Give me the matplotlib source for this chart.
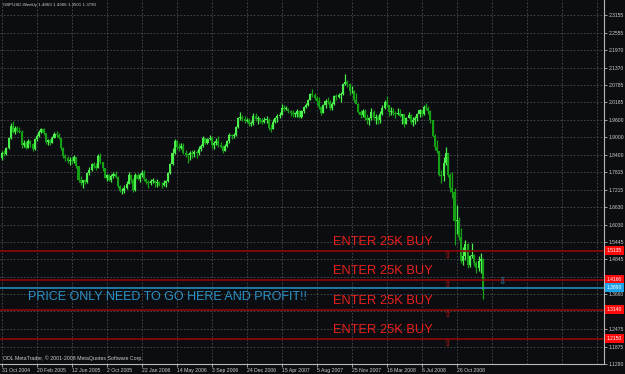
import matplotlib
matplotlib.use('Agg')
import matplotlib.pyplot as plt
from matplotlib.transforms import blended_transform_factory

# ---------------- data (weekly GBPUSD bars, 31 Oct 2004 .. 18 Jan 2009) ----------------
opens = [1.8290, 1.8480, 1.8440, 1.8640, 1.8960, 1.9390, 1.9180, 1.9330, 1.9220, 1.9180,
         1.8750, 1.8820, 1.8640, 1.8870, 1.8770, 1.8590, 1.8930, 1.9040, 1.9180, 1.9280,
         1.9130, 1.8840, 1.8900, 1.8810, 1.8980, 1.9100, 1.9090, 1.8990, 1.8640, 1.8350,
         1.8310, 1.8200, 1.8230, 1.8190, 1.8320, 1.8010, 1.7540, 1.7460, 1.7540, 1.7480,
         1.7770, 1.7900, 1.8100, 1.8030, 1.7960, 1.8370, 1.8160, 1.7940, 1.7620, 1.7700,
         1.7560, 1.7680, 1.7760, 1.7640, 1.7350, 1.7160, 1.7180, 1.7270, 1.7410, 1.7720,
         1.7540, 1.7200, 1.7720, 1.7570, 1.7730, 1.7790, 1.7570, 1.7470, 1.7460, 1.7510,
         1.7520, 1.7450, 1.7490, 1.7370, 1.7360, 1.7430, 1.7510, 1.7770, 1.8100, 1.8470,
         1.8870, 1.8680, 1.8650, 1.8700, 1.8460, 1.8410, 1.8390, 1.8480, 1.8440, 1.8490,
         1.8450, 1.8600, 1.8700, 1.8970, 1.8810, 1.8950, 1.8980, 1.8720, 1.8790, 1.8880,
         1.8720, 1.8680, 1.8540, 1.8690, 1.8860, 1.9090, 1.9050, 1.9090, 1.9360, 1.9650,
         1.9700, 1.9630, 1.9550, 1.9590, 1.9440, 1.9490, 1.9720, 1.9620, 1.9650, 1.9550,
         1.9510, 1.9590, 1.9600, 1.9300, 1.9270, 1.9530, 1.9650, 1.9730, 1.9770, 2.0010,
         1.9950, 1.9970, 1.9890, 1.9840, 1.9780, 1.9800, 1.9900, 1.9690, 1.9880, 2.0040,
         2.0110, 2.0270, 2.0470, 2.0420, 2.0320, 2.0220, 2.0030, 1.9840, 2.0080, 2.0240,
         2.0200, 2.0000, 2.0130, 2.0410, 2.0370, 2.0420, 2.0480, 2.0800, 2.0870, 2.0800,
         2.0560, 2.0560, 2.0280, 2.0140, 1.9870, 1.9760, 1.9890, 1.9640, 1.9570, 1.9640,
         1.9870, 1.9640, 1.9700, 1.9600, 1.9790, 2.0000, 2.0210, 2.0080, 1.9860, 1.9900,
         1.9820, 1.9780, 1.9820, 1.9720, 1.9780, 1.9460, 1.9660, 1.9770, 1.9520, 1.9590,
         1.9660, 1.9790, 1.9930, 1.9780, 2.0020, 2.0010, 1.9880, 1.9570, 1.9050, 1.8660,
         1.8520, 1.7700, 1.7670, 1.8140, 1.8450, 1.7720, 1.7290, 1.7150, 1.6150, 1.6180,
         1.5620, 1.4790, 1.4950, 1.5380, 1.4650, 1.4970, 1.4990, 1.4730, 1.4550, 1.4780,
         1.4869]
highs = [1.8520, 1.8560, 1.8680, 1.9020, 1.9470, 1.9550, 1.9380, 1.9370, 1.9340, 1.9230,
         1.8920, 1.8860, 1.8930, 1.8920, 1.8810, 1.8960, 1.9110, 1.9260, 1.9330, 1.9320,
         1.9140, 1.8940, 1.8950, 1.9040, 1.9180, 1.9200, 1.9140, 1.8990, 1.8670, 1.8430,
         1.8360, 1.8330, 1.8320, 1.8390, 1.8340, 1.8020, 1.7690, 1.7560, 1.7590, 1.7830,
         1.8000, 1.8140, 1.8150, 1.8130, 1.8440, 1.8450, 1.8160, 1.7960, 1.7760, 1.7740,
         1.7740, 1.7820, 1.7860, 1.7690, 1.7380, 1.7260, 1.7360, 1.7510, 1.7830, 1.7740,
         1.7600, 1.7790, 1.7770, 1.7780, 1.7900, 1.7880, 1.7610, 1.7560, 1.7580, 1.7620,
         1.7560, 1.7570, 1.7510, 1.7490, 1.7560, 1.7560, 1.7830, 1.8140, 1.8640, 1.8930,
         1.8910, 1.8800, 1.8820, 1.8800, 1.8570, 1.8480, 1.8540, 1.8560, 1.8560, 1.8560,
         1.8700, 1.8780, 1.9050, 1.8980, 1.8990, 1.9070, 1.9040, 1.8860, 1.8960, 1.9030,
         1.8830, 1.8720, 1.8780, 1.8890, 1.9130, 1.9120, 1.9140, 1.9380, 1.9700, 1.9850,
         1.9760, 1.9730, 1.9660, 1.9640, 1.9560, 1.9810, 1.9830, 1.9720, 1.9670, 1.9660,
         1.9680, 1.9720, 1.9640, 1.9450, 1.9610, 1.9700, 1.9780, 1.9860, 2.0130, 2.0110,
         2.0070, 2.0010, 1.9920, 1.9920, 1.9860, 1.9950, 1.9920, 1.9930, 2.0070, 2.0160,
         2.0290, 2.0490, 2.0650, 2.0510, 2.0400, 2.0380, 2.0060, 2.0140, 2.0290, 2.0360,
         2.0270, 2.0200, 2.0450, 2.0480, 2.0520, 2.0530, 2.0860, 2.1160, 2.0960, 2.0830,
         2.0750, 2.0620, 2.0520, 2.0180, 1.9920, 1.9950, 1.9970, 1.9780, 1.9700, 1.9980,
         1.9920, 1.9790, 1.9760, 1.9900, 2.0100, 2.0280, 2.0395, 2.0100, 2.0020, 1.9980,
         1.9900, 2.0000, 1.9950, 1.9800, 1.9790, 1.9690, 1.9860, 1.9800, 1.9680, 1.9720,
         1.9840, 1.9960, 1.9930, 2.0080, 2.0160, 2.0060, 1.9920, 1.9600, 1.9120, 1.8900,
         1.8540, 1.7890, 1.8320, 1.8660, 1.8480, 1.7800, 1.7820, 1.7270, 1.6680, 1.6300,
         1.5900, 1.5260, 1.5490, 1.5400, 1.5000, 1.5400, 1.5020, 1.4790, 1.4950, 1.5070,
         1.4906]
lows = [1.8240, 1.8370, 1.8380, 1.8600, 1.8930, 1.9140, 1.9110, 1.9180, 1.9150, 1.8640,
        1.8670, 1.8600, 1.8620, 1.8680, 1.8530, 1.8570, 1.8880, 1.9000, 1.9140, 1.9060,
        1.8760, 1.8720, 1.8730, 1.8790, 1.8960, 1.9020, 1.8930, 1.8580, 1.8310, 1.8200,
        1.8140, 1.8060, 1.8090, 1.8140, 1.7960, 1.7480, 1.7390, 1.7290, 1.7400, 1.7440,
        1.7700, 1.7860, 1.7940, 1.7900, 1.7940, 1.8090, 1.7850, 1.7600, 1.7520, 1.7500,
        1.7480, 1.7620, 1.7600, 1.7270, 1.7130, 1.7060, 1.7090, 1.7230, 1.7410, 1.7450,
        1.7150, 1.7180, 1.7540, 1.7480, 1.7650, 1.7510, 1.7410, 1.7290, 1.7390, 1.7440,
        1.7300, 1.7310, 1.7330, 1.7280, 1.7350, 1.7320, 1.7470, 1.7750, 1.8040, 1.8440,
        1.8590, 1.8530, 1.8590, 1.8420, 1.8340, 1.8140, 1.8220, 1.8300, 1.8340, 1.8290,
        1.8400, 1.8540, 1.8680, 1.8770, 1.8770, 1.8890, 1.8650, 1.8610, 1.8720, 1.8680,
        1.8620, 1.8460, 1.8530, 1.8660, 1.8800, 1.8940, 1.8980, 1.9030, 1.9320, 1.9590,
        1.9560, 1.9500, 1.9530, 1.9380, 1.9370, 1.9430, 1.9550, 1.9460, 1.9480, 1.9440,
        1.9500, 1.9480, 1.9250, 1.9180, 1.9270, 1.9470, 1.9520, 1.9650, 1.9760, 1.9890,
        1.9910, 1.9820, 1.9710, 1.9700, 1.9680, 1.9690, 1.9670, 1.9640, 1.9820, 2.0010,
        2.0070, 2.0250, 2.0370, 2.0250, 2.0100, 1.9950, 1.9740, 1.9810, 2.0000, 2.0130,
        1.9940, 1.9930, 2.0090, 2.0280, 2.0330, 2.0200, 2.0450, 2.0780, 2.0720, 2.0420,
        2.0500, 2.0190, 2.0120, 1.9810, 1.9650, 1.9700, 1.9590, 1.9450, 1.9400, 1.9580,
        1.9570, 1.9450, 1.9460, 1.9500, 1.9770, 1.9950, 2.0020, 1.9720, 1.9770, 1.9740,
        1.9660, 1.9760, 1.9680, 1.9460, 1.9360, 1.9440, 1.9660, 1.9440, 1.9380, 1.9450,
        1.9560, 1.9690, 1.9720, 1.9760, 1.9910, 1.9800, 1.9500, 1.9000, 1.8570, 1.8480,
        1.7670, 1.7445, 1.7520, 1.8040, 1.7640, 1.7140, 1.6950, 1.5350, 1.5700, 1.5510,
        1.4720, 1.4660, 1.4840, 1.4570, 1.4580, 1.4900, 1.4630, 1.4370, 1.4450, 1.4400,
        1.3501]
closes = [1.8480, 1.8440, 1.8640, 1.8960, 1.9390, 1.9180, 1.9330, 1.9220, 1.9180, 1.8750,
          1.8820, 1.8640, 1.8870, 1.8770, 1.8590, 1.8930, 1.9040, 1.9180, 1.9280, 1.9130,
          1.8840, 1.8900, 1.8810, 1.8980, 1.9100, 1.9090, 1.8990, 1.8640, 1.8350, 1.8310,
          1.8200, 1.8230, 1.8190, 1.8320, 1.8010, 1.7540, 1.7460, 1.7540, 1.7480, 1.7770,
          1.7900, 1.8100, 1.8030, 1.7960, 1.8370, 1.8160, 1.7940, 1.7620, 1.7700, 1.7560,
          1.7680, 1.7760, 1.7640, 1.7350, 1.7160, 1.7180, 1.7270, 1.7410, 1.7720, 1.7540,
          1.7200, 1.7720, 1.7570, 1.7730, 1.7790, 1.7570, 1.7470, 1.7460, 1.7510, 1.7520,
          1.7450, 1.7490, 1.7370, 1.7360, 1.7430, 1.7510, 1.7770, 1.8100, 1.8470, 1.8870,
          1.8680, 1.8650, 1.8700, 1.8460, 1.8410, 1.8390, 1.8480, 1.8440, 1.8490, 1.8450,
          1.8600, 1.8700, 1.8970, 1.8810, 1.8950, 1.8980, 1.8720, 1.8790, 1.8880, 1.8720,
          1.8680, 1.8540, 1.8690, 1.8860, 1.9090, 1.9050, 1.9090, 1.9360, 1.9650, 1.9700,
          1.9630, 1.9550, 1.9590, 1.9440, 1.9490, 1.9720, 1.9620, 1.9650, 1.9550, 1.9510,
          1.9590, 1.9600, 1.9300, 1.9270, 1.9530, 1.9650, 1.9730, 1.9770, 2.0010, 1.9950,
          1.9970, 1.9890, 1.9840, 1.9780, 1.9800, 1.9900, 1.9690, 1.9880, 2.0040, 2.0110,
          2.0270, 2.0470, 2.0420, 2.0320, 2.0220, 2.0030, 1.9840, 2.0080, 2.0240, 2.0200,
          2.0000, 2.0130, 2.0410, 2.0370, 2.0420, 2.0480, 2.0800, 2.0870, 2.0800, 2.0560,
          2.0560, 2.0280, 2.0140, 1.9870, 1.9760, 1.9890, 1.9640, 1.9570, 1.9640, 1.9870,
          1.9640, 1.9700, 1.9600, 1.9790, 2.0000, 2.0210, 2.0080, 1.9860, 1.9900, 1.9820,
          1.9780, 1.9820, 1.9720, 1.9780, 1.9460, 1.9660, 1.9770, 1.9520, 1.9590, 1.9660,
          1.9790, 1.9930, 1.9780, 2.0020, 2.0010, 1.9880, 1.9570, 1.9050, 1.8660, 1.8520,
          1.7700, 1.7670, 1.8140, 1.8450, 1.7720, 1.7290, 1.7150, 1.6150, 1.6180, 1.5620,
          1.4790, 1.4950, 1.5380, 1.4650, 1.4970, 1.4990, 1.4730, 1.4550, 1.4780, 1.4869,
          1.3790]

date_labels = ['31 Oct 2004', '20 Feb 2005', '12 Jun 2005', '2 Oct 2005', '22 Jan 2006',
               '14 May 2006', '3 Sep 2006', '24 Dec 2006', '15 Apr 2007', '5 Aug 2007',
               '25 Nov 2007', '16 Mar 2008', '6 Jul 2008', '26 Oct 2008']
bars_per_label = 16

price_ticks = [2.3155, 2.2555, 2.1970, 2.1370, 2.0785, 2.0185, 1.9600, 1.9000, 1.8400,
               1.7815, 1.7215, 1.6630, 1.6030, 1.5445, 1.4845, 1.4260, 1.3660, 1.3075,
               1.2475, 1.1875, 1.1290]
# tick labels hidden behind the coloured price boxes in the reference
hidden_ticks = [1.3075]

buy_levels = [1.5135, 1.4160, 1.3140, 1.2150]
target_level = 1.3890

header = 'GBPUSD,Weekly 1.4869 1.4906 1.3501 1.3790'
copyright_text = 'ODL MetaTrader, \u00a9 2001-2008 MetaQuotes Software Corp.'
buy_text = 'ENTER 25K BUY'
target_text = 'PRICE ONLY NEED TO GO HERE AND PROFIT!!'

# ---------------- style ----------------
BG = '#0b0d10'
GRID = '#4c4e52'
FG = '#cccccc'
UP = '#4cf04c'
DN = '#16a016'
RED_LINE = '#8e0606'
RED_TXT = '#e8201c'
BLUE = '#2a93c8'
FONT = 'Liberation Sans'

W, H = 625, 374
fig = plt.figure(figsize=(W / 100, H / 100), dpi=100)
fig.patch.set_facecolor(BG)

plot_right = 604
plot_bottom = 364
ax = fig.add_axes([0, (H - plot_bottom) / H, plot_right / W, plot_bottom / H])
ax.set_facecolor(BG)

px_per_bar = 2.186
x0_px = 2.0
ax.set_xlim(-x0_px / px_per_bar, (plot_right - x0_px) / px_per_bar)
ymin, ymax = 1.1290, 2.3666
ax.set_ylim(ymin, ymax)
ppx = (ymax - ymin) / plot_bottom   # price per pixel

n = len(closes)
xs = list(range(n))

# grid
n_vgrid = int((plot_right - x0_px) / px_per_bar / bars_per_label) + 1
for k in range(n_vgrid):
    ax.axvline(k * bars_per_label, color=GRID, lw=0.6, dashes=(2, 2), zorder=1)
for p in price_ticks:
    ax.axhline(p, color=GRID, lw=0.6, dashes=(2, 2), zorder=1)

# candles
for i in xs:
    o, h, l, c = opens[i], highs[i], lows[i], closes[i]
    col = UP if c >= o else DN
    ax.vlines(i, min(l, o, c), max(h, o, c), color=col, lw=0.9, zorder=3)
    body = max(abs(c - o), ppx * 0.8)
    ax.bar(i, body, bottom=min(o, c), width=0.95, color=col, linewidth=0, zorder=4)

# horizontal levels
for lv in buy_levels:
    ax.axhline(lv, color=RED_LINE, lw=1.2, zorder=5)
ax.axhline(target_level, color=BLUE, lw=1.1, zorder=5)

# annotations
text_x = (333 - x0_px) / px_per_bar
for lv in buy_levels:
    ax.text(text_x, lv + 8.5 * ppx, buy_text, color=RED_TXT, fontsize=9.3,
            family=FONT, va='center', ha='left', zorder=6)
ax.text((28 - x0_px) / px_per_bar, target_level - 9.5 * ppx, target_text, color=BLUE,
        fontsize=9.0, family=FONT, va='center', ha='left', zorder=6)

arrow_x = (447 - x0_px) / px_per_bar
for lv in buy_levels:
    ax.text(arrow_x, lv - 5 * ppx, '\u21e7', color='#d01414', fontsize=6.5,
            family='DejaVu Sans', ha='center', va='center', zorder=6)
ax.text((502 - x0_px) / px_per_bar, target_level + 5 * ppx, '\u21e9', color=BLUE,
        fontsize=6.5, family='DejaVu Sans', ha='center', va='center', zorder=6)

# header / footer texts
ax.text(3 / plot_right, 1 - 5 / plot_bottom, header, transform=ax.transAxes, color=FG,
        fontsize=3.2, family=FONT, va='center', ha='left')
ax.text(3 / plot_right, 1 - 358 / plot_bottom, copyright_text, transform=ax.transAxes,
        color=FG, fontsize=3.8, family=FONT, va='center', ha='left')

# axes / ticks
for s in ['top', 'left']:
    ax.spines[s].set_visible(False)
for s in ['right', 'bottom']:
    ax.spines[s].set_color('#b8b8b8')
    ax.spines[s].set_linewidth(0.8)

ax.yaxis.tick_right()
ax.set_yticks(price_ticks)
ax.set_yticklabels(['' if p in hidden_ticks else '%.4f' % p for p in price_ticks])
ax.tick_params(axis='y', direction='out', length=2, width=0.6, color='#b8b8b8',
               labelsize=3.6, labelcolor=FG, pad=1.2)
ax.set_xticks([k * bars_per_label for k in range(len(date_labels))])
ax.set_xticklabels(date_labels, ha='left')
ax.tick_params(axis='x', direction='out', length=2, width=0.6, color='#b8b8b8',
               labelsize=3.7, labelcolor=FG, pad=1.0)
for lab in ax.get_xticklabels() + ax.get_yticklabels():
    lab.set_family(FONT)

# price boxes on the right axis
ytr = blended_transform_factory(ax.transAxes, ax.transData)
for lv in buy_levels:
    ax.text(1.0 + 2.5 / plot_right, lv, '%.4f' % lv, transform=ytr, color='white',
            fontsize=3.6, family=FONT, va='center', ha='left', clip_on=False,
            zorder=10, bbox=dict(boxstyle='square,pad=0.4', fc='#ff0a0a', ec='none'))
ax.text(1.0 + 2.5 / plot_right, target_level, '%.4f' % target_level, transform=ytr,
        color='white', fontsize=3.6, family=FONT, va='center', ha='left',
        clip_on=False, zorder=10,
        bbox=dict(boxstyle='square,pad=0.4', fc='#1ea3e8', ec='none'))

fig.savefig('out.png', dpi=100, facecolor=BG)
